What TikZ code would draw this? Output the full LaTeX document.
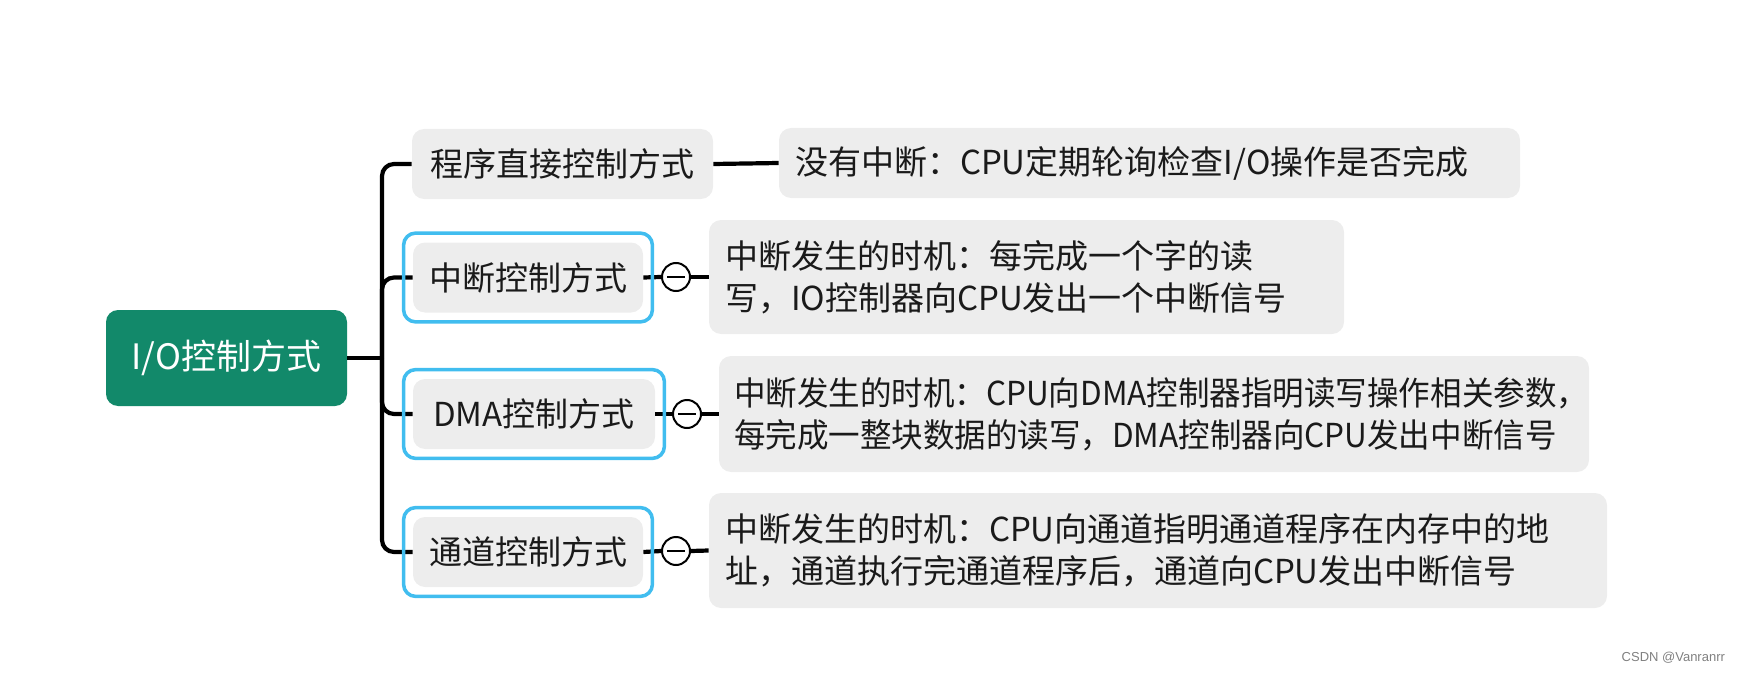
\documentclass[tikz,border=0pt]{standalone}
\usepackage{fontspec}
\setmainfont{Noto Sans CJK SC}
\newfontfamily\wmfont{Liberation Sans}
\newfontfamily\narrowfont[FakeStretch=0.955]{Noto Sans CJK SC}
\usetikzlibrary{fit}
\definecolor{rootgreen}{HTML}{12896A}
\definecolor{boxgray}{HTML}{EDEDED}
\definecolor{selblue}{HTML}{41BDEF}
\definecolor{txt}{HTML}{1A1A1A}
\begin{document}
\begin{tikzpicture}[x=0.5pt,y=-0.5pt,
  every node/.style={font=\fontsize{16.5}{21}\selectfont, text=txt},
  rootbox/.style={fill=rootgreen, rounded corners=6pt, minimum width=120.5pt, minimum height=48pt, text=white, inner sep=0pt, font=\fontsize{17.5}{21}\selectfont},
  branchbox/.style={fill=boxgray, rounded corners=6pt, minimum height=35pt, inner sep=0pt},
  detailbox/.style={fill=boxgray, rounded corners=6pt, inner xsep=8pt, inner ysep=0pt, align=left},
  selframe/.style={draw=selblue, line width=1.75pt, rounded corners=6pt, inner sep=4.5pt},
  conn/.style={draw=black, line width=2.1pt},
  fold/.style={circle, draw=black, line width=1pt, fill=white, minimum size=14pt, inner sep=0pt,
    path picture={\draw[line width=1pt] ([xshift=-4.5pt]path picture bounding box.center) -- ([xshift=4.5pt]path picture bounding box.center);}}
]
\useasboundingbox (0,0) rectangle (1746,674);

% root
\node[rootbox] (root) at (226.5,358) {I/O控制方式};

% branches
\node[branchbox, minimum width=150.5pt] (b1) at (562.5,164) {程序直接控制方式};
\node[branchbox, minimum width=115pt] (b2) at (528,277.5) {中断控制方式};
\node[branchbox, minimum width=121pt] (b3) at (534,414) {DMA控制方式};
\node[branchbox, minimum width=115pt] (b4) at (528,552) {通道控制方式};

% fold circles
\node[fold] (c2) at (676,277) {};
\node[fold] (c3) at (687,414) {};
\node[fold] (c4) at (676,551) {};

% details
\node[detailbox, text width=354.5pt, minimum height=35pt] (d1) at (1149.5,163) {没有中断：CPU定期轮询检查I/O操作是否完成};
\node[detailbox, text width=301.5pt, minimum height=57pt] (d2) at (1026.5,277) {中断发生的时机：每完成一个字的读\\写，IO控制器向CPU发出一个中断信号};
\node[detailbox, text width=420pt, inner xsep=7.5pt, minimum height=58pt, font=\narrowfont\fontsize{16.5}{21}\selectfont] (d3) at (1154,414) {中断发生的时机：CPU向DMA控制器指明读写操作相关参数，\\每完成一整块数据的读写，DMA控制器向CPU发出中断信号};
\node[detailbox, text width=433pt, minimum height=57.5pt] (d4) at (1158,550.5) {中断发生的时机：CPU向通道指明通道程序在内存中的地\\址，通道执行完通道程序后，通道向CPU发出中断信号};

% connectors
\coordinate (tr) at (382,358);
\draw[conn] (root.east) -- (tr);
\draw[conn, rounded corners=6pt] (b1.west) -| (tr) |- (b4.west);
\draw[conn, rounded corners=6pt] (tr) |- (b2.west);
\draw[conn, rounded corners=6pt] (tr) |- (b3.west);
\draw[conn] (b1.east) -- (d1.west);
\draw[conn] (b2.east) -- (c2.west);
\draw[conn] (c2.east) -- (d2.west);
\draw[conn] (b3.east) -- (c3.west);
\draw[conn] (c3.east) -- (d3.west);
\draw[conn] (b4.east) -- (c4.west);
\draw[conn] (c4.east) -- (d4.west);

% selection frames
\node[selframe, fit=(b2)] (f2) {};
\node[selframe, fit=(b3)] (f3) {};
\node[selframe, fit=(b4)] (f4) {};

% watermark
\node[font=\wmfont\fontsize{6.5}{8}\selectfont, text=black!50, anchor=east] (wm) at (1732,658) {CSDN @Vanranrr};
\end{tikzpicture}
\end{document}
